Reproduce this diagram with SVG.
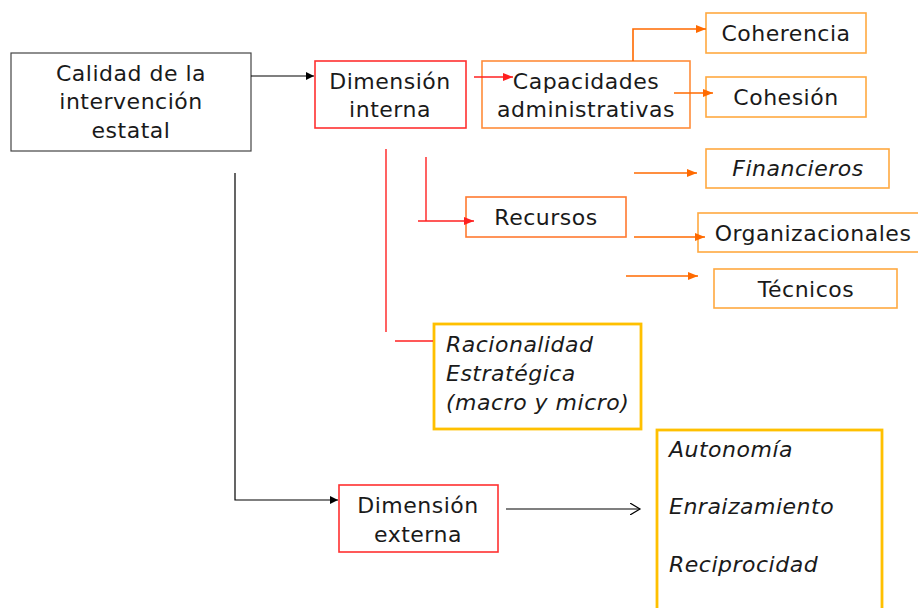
<svg xmlns="http://www.w3.org/2000/svg" width="918" height="608" viewBox="0 0 918 608">
<style>
.t{font-family:"DejaVu Sans",Verdana,sans-serif;font-size:22px;fill:#1a1a1a;letter-spacing:0.5px}
.c{text-anchor:middle}
.i{font-style:italic}
.bk{fill:#fff;stroke:#444;stroke-width:1.2}
.rd{fill:#fff;stroke:#ff3030;stroke-width:1.6}
.or{fill:#fff;stroke:#ff8c3a;stroke-width:1.6}
.lo{fill:#fff;stroke:#ffa940;stroke-width:1.6}
.ye{fill:#fff;stroke:#ffc000;stroke-width:2.8}
.lk{fill:none;stroke:#000;stroke-width:1.2}
.lr{fill:none;stroke:#ff2020;stroke-width:1.4}
.lg{fill:none;stroke:#ff6a00;stroke-width:1.6}
</style>
<defs>
<marker id="ak" markerWidth="10" markerHeight="10" refX="8" refY="4" orient="auto" markerUnits="userSpaceOnUse"><path d="M0,0 L8,4 L0,8 Z" fill="#000"/></marker>
<marker id="ar" markerWidth="12" markerHeight="10" refX="10" refY="4" orient="auto" markerUnits="userSpaceOnUse"><path d="M0,0 L10,4 L0,8 Z" fill="#ff2020"/></marker>
<marker id="ag" markerWidth="12" markerHeight="10" refX="10" refY="4" orient="auto" markerUnits="userSpaceOnUse"><path d="M0,0 L10,4 L0,8 Z" fill="#ff6a00"/></marker>
<marker id="ao" markerWidth="12" markerHeight="12" refX="10" refY="6" orient="auto" markerUnits="userSpaceOnUse"><path d="M0,0 L10,6 L0,12" fill="none" stroke="#000" stroke-width="1.2"/></marker>
</defs>
<g id="calidad">
<rect class="bk" x="11" y="53" width="240" height="98"/>
<text class="t c" x="131" y="81">Calidad de la</text>
<text class="t c" x="131" y="109">intervención</text>
<text class="t c" x="131" y="138">estatal</text>
</g>
<g id="dim-interna">
<rect class="rd" x="315" y="61" width="151" height="67"/>
<text class="t c" x="390" y="89">Dimensión</text>
<text class="t c" x="390" y="117">interna</text>
</g>
<g id="capacidades">
<rect class="or" x="482" y="61" width="208" height="67"/>
<text class="t c" x="586" y="89">Capacidades</text>
<text class="t c" x="586" y="117">administrativas</text>
</g>
<g id="coherencia">
<rect class="lo" x="706" y="13" width="160" height="40"/>
<text class="t c" x="786" y="41">Coherencia</text>
</g>
<g id="cohesion">
<rect class="lo" x="706" y="77" width="160" height="40"/>
<text class="t c" x="786" y="105">Cohesión</text>
</g>
<g id="recursos">
<rect class="or" x="466" y="197" width="160" height="40" style="stroke:#ff7a30"/>
<text class="t c" x="546" y="225">Recursos</text>
</g>
<g id="financieros">
<rect class="lo" x="706" y="149" width="183" height="39"/>
<text class="t c i" x="798" y="176">Financieros</text>
</g>
<g id="organizacionales">
<rect class="lo" x="698" y="213" width="224" height="39"/>
<text class="t c" x="813" y="241">Organizacionales</text>
</g>
<g id="tecnicos">
<rect class="lo" x="714" y="269" width="183" height="39"/>
<text class="t c" x="806" y="297">Técnicos</text>
</g>
<g id="racionalidad">
<rect class="ye" x="434" y="324" width="207" height="105"/>
<text class="t i" x="446" y="352">Racionalidad</text>
<text class="t i" x="446" y="381">Estratégica</text>
<text class="t i" x="446" y="410">(macro y micro)</text>
</g>
<g id="dim-externa">
<rect class="rd" x="339" y="485" width="159" height="67"/>
<text class="t c" x="418" y="513">Dimensión</text>
<text class="t c" x="418" y="542">externa</text>
</g>
<g id="externa-items">
<rect class="ye" x="657" y="430" width="225" height="190"/>
<text class="t i" x="669" y="457">Autonomía</text>
<text class="t i" x="669" y="514">Enraizamiento</text>
<text class="t i" x="669" y="572">Reciprocidad</text>
</g>
<g id="connectors">
<path class="lk" d="M251,76 H314" marker-end="url(#ak)"/>
<path class="lk" d="M235,173 V500 H338" marker-end="url(#ak)"/>
<path class="lk" d="M506,509 H640" marker-end="url(#ao)"/>
<path class="lr" d="M474,77 H513" marker-end="url(#ar)"/>
<path class="lr" d="M426,157 V221"/>
<path class="lr" d="M418,221 H474" marker-end="url(#ar)"/>
<path class="lr" d="M386,149 V332"/>
<path class="lr" d="M395,341 H433"/>
<path class="lg" d="M633,61 V29 H706" marker-end="url(#ag)"/>
<path class="lg" d="M674,93 H713" marker-end="url(#ag)"/>
<path class="lg" d="M634,173 H697" marker-end="url(#ag)"/>
<path class="lg" d="M634,237 H705" marker-end="url(#ag)"/>
<path class="lg" d="M626,276 H698" marker-end="url(#ag)"/>
</g>
</svg>
